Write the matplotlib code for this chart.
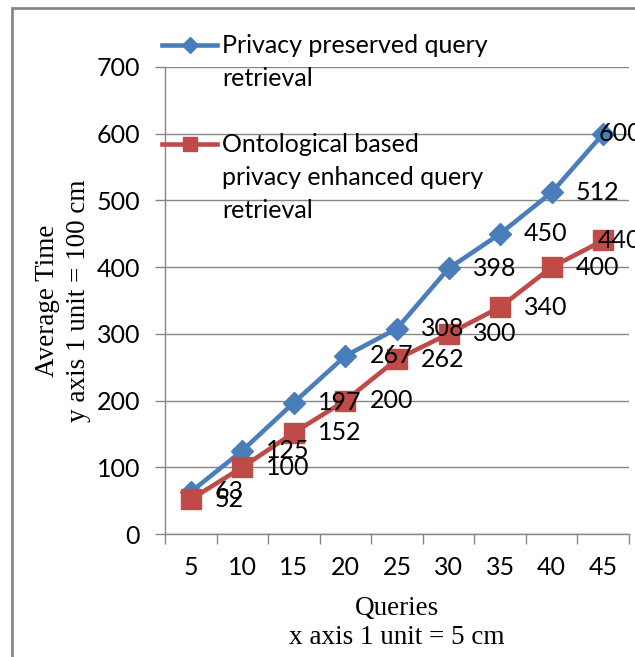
import matplotlib.pyplot as plt
from matplotlib.lines import Line2D
from matplotlib.patches import Rectangle

# datos
queries = [5, 10, 15, 20, 25, 30, 35, 40, 45]
privacy_preserved = [63, 125, 197, 267, 308, 398, 450, 512, 600]
ontological = [52, 100, 152, 200, 262, 300, 340, 400, 440]

label_1 = "Privacy preserved query\nretrieval"
label_2 = "Ontological based\nprivacy enhanced query\nretrieval"

blue = "#4A7EBB"
red = "#BE4B48"
gris = "#868686"
sans = ["Lato", "DejaVu Sans"]
serif = ["Liberation Serif", "DejaVu Serif"]
fs = 18

W, H = 635, 657
fig = plt.figure(figsize=(W / 100, H / 100), dpi=100)
ax = fig.add_axes([165 / W, 1 - 534 / H, (629 - 165) / W, (534 - 67) / H])

x = list(range(len(queries)))
ax.plot(x, privacy_preserved, color=blue, lw=3.3, marker="D", ms=11, zorder=3)
ax.plot(x, ontological, color=red, lw=3.3, marker="s", ms=14.5, zorder=3)

# etiquetas de datos (a la derecha del punto)
for serie in (privacy_preserved, ontological):
    for i, v in enumerate(serie):
        dx = 24 if i < len(serie) - 1 else -5
        ax.annotate(str(v), (i, v), xytext=(dx, 0), textcoords="offset pixels",
                    ha="left", va="center", fontsize=fs, family=sans,
                    color="black", zorder=4, annotation_clip=False)

ax.set_xlim(-0.5, len(queries) - 0.5)
ax.set_ylim(0, 700)
ax.set_yticks(range(0, 701, 100))
ax.set_xticks(x)
ax.set_xticklabels([str(q) for q in queries], family=sans, fontsize=fs)
ax.set_xticks([i - 0.5 for i in range(len(queries) + 1)], minor=True)
for t in ax.get_yticklabels():
    t.set_family(sans)
    t.set_fontsize(fs)

ax.tick_params(axis="x", which="major", length=0, pad=16)
ax.tick_params(axis="x", which="minor", length=7, width=1, color=gris, direction="out")
ax.tick_params(axis="y", length=7, width=1, color=gris, pad=11)
ax.grid(axis="y", color=gris, lw=1)
ax.set_axisbelow(True)
for s in ("top", "right"):
    ax.spines[s].set_visible(False)
for s in ("left", "bottom"):
    ax.spines[s].set_color(gris)
    ax.spines[s].set_linewidth(1)

ax.set_xlabel("Queries\nx axis 1 unit = 5 cm", family=serif, fontsize=19.5,
              linespacing=1.22, labelpad=12)
ax.set_ylabel("Average Time\ny axis 1 unit = 100 cm", family=serif, fontsize=19.5,
              linespacing=1.3, labelpad=4)

# leyenda hecha a mano (icono alineado con la primera linea)
tf = fig.transFigure
for color, marker, ms, y_px, texto in ((blue, "D", 8, 45, label_1),
                                         (red, "s", 10.5, 144, label_2)):
    y = 1 - y_px / H
    fig.add_artist(Line2D([162 / W, 217 / W], [y, y], transform=tf, color=color, lw=3.3))
    fig.add_artist(Line2D([189.5 / W], [y], transform=tf, color=color, marker=marker,
                          ms=ms, lw=0))
    fig.text(222 / W, 1 - (y_px - 11) / H, texto, transform=tf, family=sans, fontsize=fs,
             ha="left", va="top", linespacing=1.52)

# marco del grafico
fig.add_artist(Rectangle((12 / W, -0.05), 1.2, 1 - 8 / H + 0.05, transform=tf,
                         fill=False, edgecolor=gris, lw=2))

fig.savefig("out.png", dpi=100)
